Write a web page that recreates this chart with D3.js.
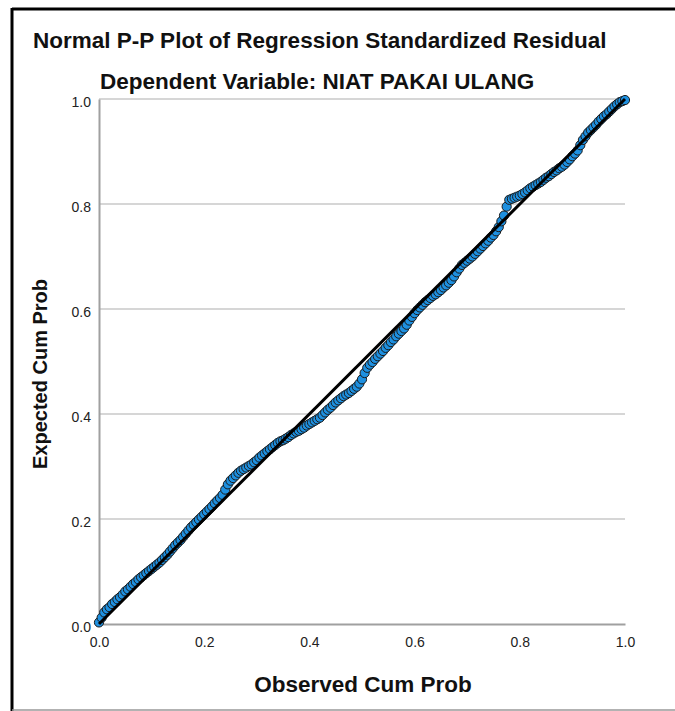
<!DOCTYPE html>
<html>
<head>
<meta charset="utf-8">
<script src="https://cdn.jsdelivr.net/npm/d3@7/dist/d3.min.js"></script>
<style>
html,body{margin:0;padding:0;background:#fff;}
svg{display:block;}
text{font-family:"Liberation Sans",Arial,sans-serif;}
</style>
</head>
<body>
<svg id="chart" width="675" height="711"></svg>
<script>
// Observed cumulative probability (x) and expected cumulative probability (y)
const observed = [0.000,0.005,0.010,0.015,0.020,0.025,0.030,0.035,0.040,0.045,
  0.050,0.055,0.060,0.065,0.070,0.075,0.080,0.085,0.090,0.095,
  0.100,0.105,0.110,0.115,0.120,0.125,0.130,0.135,0.140,0.145,
  0.150,0.155,0.160,0.165,0.170,0.175,0.180,0.185,0.190,0.195,
  0.200,0.205,0.210,0.215,0.220,0.225,0.230,0.235,0.240,0.245,
  0.250,0.255,0.260,0.265,0.270,0.275,0.280,0.285,0.290,0.295,
  0.300,0.305,0.310,0.315,0.320,0.325,0.330,0.335,0.340,0.345,
  0.350,0.355,0.360,0.365,0.370,0.375,0.380,0.385,0.390,0.395,
  0.400,0.405,0.410,0.415,0.420,0.425,0.430,0.435,0.440,0.445,
  0.450,0.455,0.460,0.465,0.470,0.475,0.480,0.485,0.490,0.495,
  0.500,0.505,0.510,0.515,0.520,0.525,0.530,0.535,0.540,0.545,
  0.550,0.555,0.560,0.565,0.570,0.575,0.580,0.585,0.590,0.595,
  0.600,0.605,0.610,0.615,0.620,0.625,0.630,0.635,0.640,0.645,
  0.650,0.655,0.660,0.665,0.670,0.675,0.680,0.685,0.690,0.695,
  0.700,0.705,0.710,0.715,0.720,0.725,0.730,0.735,0.740,0.745,
  0.750,0.755,0.760,0.765,0.770,0.775,0.780,0.785,0.790,0.795,
  0.800,0.805,0.810,0.815,0.820,0.825,0.830,0.835,0.840,0.845,
  0.850,0.855,0.860,0.865,0.870,0.875,0.880,0.885,0.890,0.895,
  0.900,0.905,0.910,0.915,0.920,0.925,0.930,0.935,0.940,0.945,
  0.950,0.955,0.960,0.965,0.970,0.975,0.980,0.985,0.990,0.995,1.000];
const expected = [0.003,0.012,0.022,0.028,0.032,0.038,0.042,0.047,0.051,0.056,
  0.062,0.066,0.071,0.076,0.080,0.085,0.089,0.093,0.097,0.101,
  0.105,0.109,0.113,0.117,0.122,0.127,0.132,0.138,0.144,0.150,
  0.155,0.160,0.166,0.172,0.178,0.184,0.189,0.194,0.199,0.204,
  0.209,0.214,0.219,0.224,0.230,0.235,0.240,0.246,0.256,0.266,
  0.273,0.278,0.283,0.288,0.292,0.295,0.298,0.301,0.304,0.308,
  0.312,0.317,0.321,0.325,0.329,0.333,0.337,0.341,0.345,0.348,
  0.350,0.353,0.356,0.360,0.363,0.366,0.368,0.371,0.374,0.378,
  0.381,0.384,0.387,0.390,0.393,0.398,0.403,0.408,0.412,0.417,
  0.422,0.426,0.430,0.434,0.437,0.440,0.444,0.448,0.452,0.458,
  0.466,0.478,0.488,0.494,0.499,0.505,0.510,0.515,0.520,0.526,
  0.531,0.537,0.542,0.548,0.553,0.558,0.563,0.570,0.578,0.585,
  0.592,0.598,0.603,0.608,0.613,0.617,0.621,0.625,0.628,0.632,
  0.636,0.641,0.645,0.650,0.655,0.662,0.670,0.677,0.684,0.688,
  0.692,0.696,0.700,0.705,0.710,0.715,0.720,0.725,0.730,0.736,
  0.741,0.748,0.756,0.767,0.778,0.795,0.808,0.810,0.812,0.814,
  0.816,0.819,0.822,0.826,0.830,0.833,0.836,0.839,0.842,0.846,
  0.850,0.853,0.857,0.861,0.864,0.868,0.871,0.875,0.880,0.885,
  0.891,0.896,0.902,0.912,0.922,0.929,0.936,0.941,0.946,0.951,
  0.957,0.962,0.967,0.971,0.976,0.981,0.986,0.990,0.994,0.996,0.998];
const tickValues = [0.0,0.2,0.4,0.6,0.8,1.0];
const refLine = [[0,0],[1,1]];
const titleText = "Normal P-P Plot of Regression Standardized Residual";
const subtitleText = "Dependent Variable: NIAT PAKAI ULANG";
const xTitle = "Observed Cum Prob";
const yTitle = "Expected Cum Prob";

const svg = d3.select("#chart");
const x = d3.scaleLinear().domain([0,1]).range([99,625]);
const y = d3.scaleLinear().domain([0,1]).range([624,99]);

// frame
svg.append("line").attr("x1",12).attr("x2",675).attr("y1",9).attr("y2",9).attr("stroke","#000").attr("stroke-width",3);
svg.append("line").attr("x1",12).attr("x2",12).attr("y1",8).attr("y2",711).attr("stroke","#000").attr("stroke-width",3);
svg.append("line").attr("x1",12).attr("x2",675).attr("y1",710).attr("y2",710).attr("stroke","#999").attr("stroke-width",1.5);

// titles
svg.append("text").attr("x",33).attr("y",48).attr("font-size",22.5).attr("font-weight","bold").attr("fill","#111").text(titleText);
svg.append("text").attr("x",100).attr("y",89).attr("font-size",22.5).attr("font-weight","bold").attr("fill","#111").text(subtitleText);

// gridlines
svg.append("g").selectAll("line").data(tickValues.filter(d=>d>0)).join("line")
  .attr("x1",x(0)).attr("x2",x(1)).attr("y1",d=>y(d)).attr("y2",d=>y(d))
  .attr("stroke","#c8c8c8").attr("stroke-width",1.5);

// axes
const fmt = d3.format(".1f");
const gx = svg.append("g").attr("transform",`translate(0,${y(0)})`)
  .call(d3.axisBottom(x).tickValues(tickValues).tickFormat(fmt).tickSize(0).tickPadding(13));
const gy = svg.append("g").attr("transform",`translate(${x(0)},0)`)
  .call(d3.axisLeft(y).tickValues(tickValues).tickFormat(fmt).tickSize(0).tickPadding(8));
[gx,gy].forEach(g=>{
  g.select(".domain").attr("stroke","#a0a0a0").attr("stroke-width",2);
  g.selectAll("text").attr("font-family","Liberation Sans, Arial, sans-serif").attr("font-size",14).attr("fill","#222");
});
gy.selectAll("text").attr("dy","0.55em");

// points
svg.append("g").selectAll("circle").data(observed.map((o,i)=>[o,expected[i]])).join("circle")
  .attr("cx",d=>x(d[0])).attr("cy",d=>y(d[1])).attr("r",4.6)
  .attr("fill","#1e90e0").attr("stroke","#1a1a1a").attr("stroke-width",1);

// reference line
svg.append("line").attr("x1",x(refLine[0][0])).attr("y1",y(refLine[0][1]))
  .attr("x2",x(refLine[1][0])).attr("y2",y(refLine[1][1]))
  .attr("stroke","#000").attr("stroke-width",3);

// axis titles
svg.append("text").attr("x",363).attr("y",692).attr("text-anchor","middle").attr("font-size",22.5).attr("font-weight","bold").attr("fill","#111").text(xTitle);
svg.append("text").attr("transform","translate(47,374) rotate(-90)").attr("text-anchor","middle").attr("font-size",20).attr("font-weight","bold").attr("fill","#111").text(yTitle);
</script>
</body>
</html>
